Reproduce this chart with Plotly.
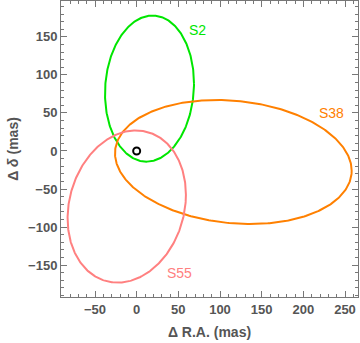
import numpy as np
import plotly.graph_objects as go

# Ellipse data: name, center (x, y), sigma x, sigma y, correlation
names = ["S2", "S38", "S55"]
center_x = [15.4, 116.0, -11.9]
center_y = [82.0, -14.5, -73.0]
sigma_x = [53.4, 142.0, 71.0]
sigma_y = [96.0, 81.5, 100.0]
rho = [0.068, -0.141, 0.155]
colors = ["#00e600", "#ff8000", "#ff8080"]

# Label positions (data coords)
label_x = [60.0, 216.0, 34.0]
label_y = [159.0, 50.0, -161.0]

# Origin marker
origin_x = [0]
origin_y = [0]

fig = go.Figure()
t = np.linspace(0, 2 * np.pi, 400)
for i, n in enumerate(names):
    x = center_x[i] + sigma_x[i] * np.cos(t)
    y = center_y[i] + sigma_y[i] * (rho[i] * np.cos(t) + np.sqrt(1 - rho[i] ** 2) * np.sin(t))
    fig.add_trace(go.Scatter(x=x, y=y, mode="lines", line=dict(color=colors[i], width=2),
                             showlegend=False, hoverinfo="skip"))
    fig.add_annotation(x=label_x[i], y=label_y[i], text=n, showarrow=False, xanchor="left",
                       yanchor="middle", font=dict(family="Liberation Sans, Arial", size=14, color=colors[i]))

fig.add_trace(go.Scatter(x=origin_x, y=origin_y, mode="markers",
                         marker=dict(symbol="circle-open", size=7, color="black", line=dict(width=2)),
                         showlegend=False))

axis_common = dict(
    showgrid=False, zeroline=False, showline=True, linecolor="#777777", linewidth=1,
    mirror="allticks", ticks="inside", ticklen=6, tickcolor="#777777", tickwidth=1,
    tickfont=dict(family="Liberation Sans, Arial", size=13, color="#555555", weight="bold"),
    minor=dict(ticks="inside", ticklen=3, tickcolor="#777777", dtick=10),
    dtick=50, tick0=0, automargin=False,
)

fig.update_layout(
    width=360, height=343,
    margin=dict(l=61, r=2, t=1, b=46),
    plot_bgcolor="white", paper_bgcolor="white",
    xaxis=dict(range=[-90.8, 265.6], **axis_common,
               title=dict(text="Δ R.A. (mas)", standoff=11,
                          font=dict(family="Liberation Sans, Arial", size=14, color="#555555", weight="bold"))),
    yaxis=dict(range=[-191.9, 197.1], **axis_common,
               title=dict(text="Δ <i>δ</i> (mas)", standoff=6,
                          font=dict(family="Liberation Sans, Arial", size=14, color="#555555", weight="bold"))),
)

fig.write_html("out.html", config={"displayModeBar": False},
               post_script="document.body.style.margin='0';document.body.style.overflow='hidden';")
